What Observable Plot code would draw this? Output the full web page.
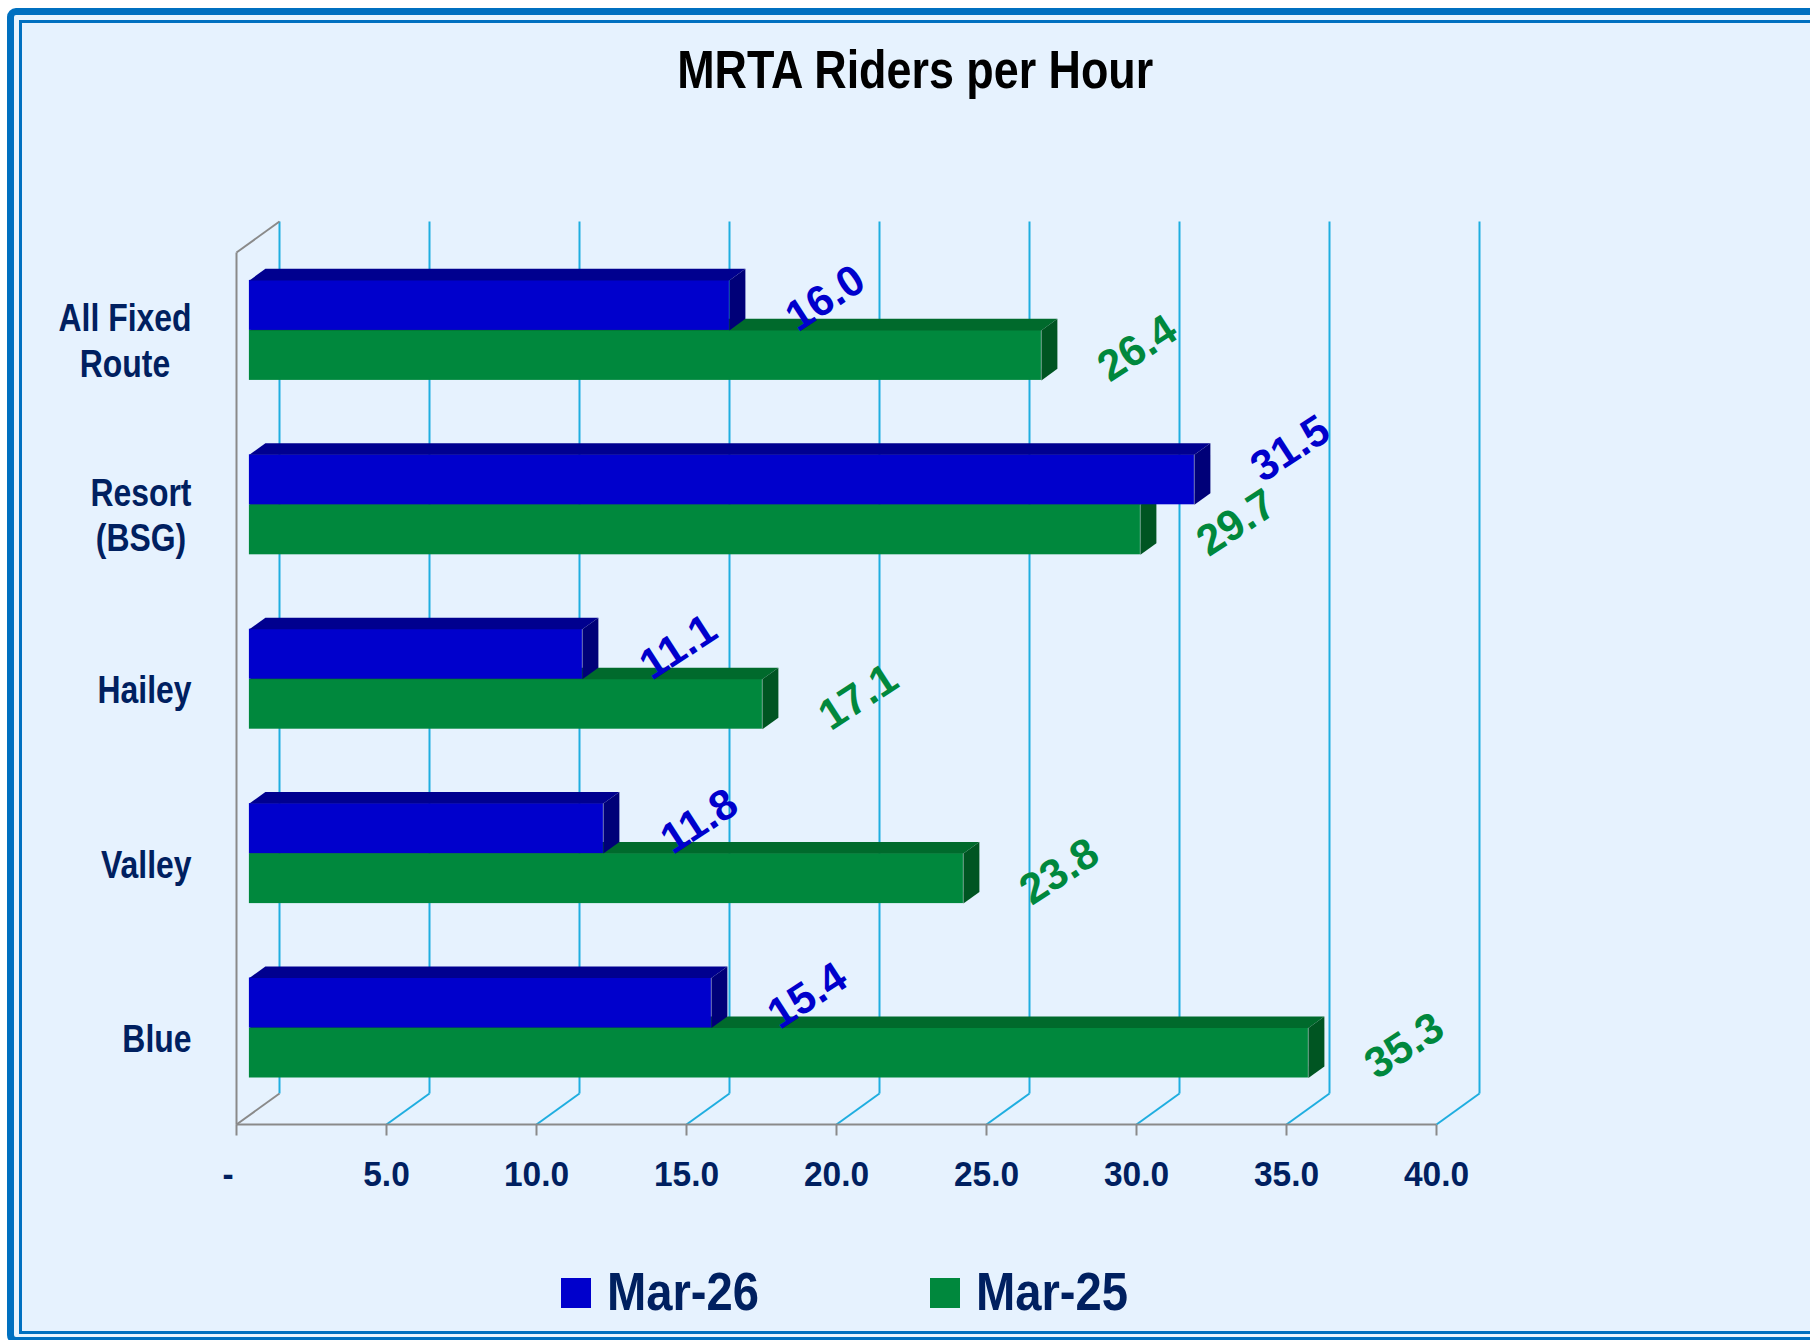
<!DOCTYPE html>
<html>
<head>
<meta charset="utf-8">
<script src="https://cdn.jsdelivr.net/npm/d3@7"></script>
<script src="https://cdn.jsdelivr.net/npm/@observablehq/plot@0.6"></script>
<style>
  html, body { margin: 0; padding: 0; background: #ffffff; }
  body { width: 1810px; height: 1340px; overflow: hidden; position: relative;
         font-family: "Liberation Sans", Arial, sans-serif; }
  #outer { position: absolute; left: 7px; top: 8px; width: 1900px; height: 1336px; box-sizing: border-box;
           border: 7px solid #0070C0; border-radius: 9px; background: #E9F4FE; }
  #inner { position: absolute; left: 19px; top: 20px; width: 1900px; height: 1314px; box-sizing: border-box;
           border: 3px solid #0070C0; background: #E6F2FE; }
  #title { position: absolute; left: 0; top: 43px; width: 1830px; text-align: center;
           font-weight: bold; font-size: 53px; line-height: 53px; color: #000; white-space: nowrap; }
  #title span { display: inline-block; transform-origin: 50% 50%; }
  #chart { position: absolute; left: 0; top: 130px; }
  .sw { position: absolute; width: 30px; height: 30px; }
  .lt { position: absolute; font-weight: bold; font-size: 53px; line-height: 53px; color: #002060;
        white-space: nowrap; transform-origin: 0 50%; }
</style>
</head>
<body>
<div id="outer"></div>
<div id="inner"></div>
<div id="title"><span>MRTA Riders per Hour</span></div>
<div id="chart"></div>
<div id="legend"></div>
<script>
// ---------------- data ----------------
const titleText = "MRTA Riders per Hour";
const categories = ["All Fixed\nRoute", "Resort\n(BSG)", "Hailey", "Valley", "Blue"];
const seriesNames = ["Mar-26", "Mar-25"];
const mar26 = [16.0, 31.5, 11.1, 11.8, 15.4];
const mar25 = [26.4, 29.7, 17.1, 23.8, 35.3];
const xTicks = [0, 5, 10, 15, 20, 25, 30, 35, 40];
const xTickLabels = ["-\u2002", "5.0", "10.0", "15.0", "20.0", "25.0", "30.0", "35.0", "40.0"];

// ---------------- layout / style ----------------
const W = 1810, H = 1080, ML = 236, MR = 374, MT = 122, MB = 86;
const X_DOMAIN = [0, 40];
const N = categories.length;
const kx = (W - ML - MR) / (X_DOMAIN[1] - X_DOMAIN[0]);   // px per x unit
const ky = (H - MT - MB) / N;                             // px per category band
const WALL_DX = 43, WALL_DY = -31;                        // 3D depth vector (px)
const du = {x: WALL_DX / kx, y: WALL_DY / ky};            // depth vector in data units
const D0 = 0.30, D1 = 0.672;                              // bar depth (fraction of wall depth)
const BAR_PX = 50;
const bt = BAR_PX / ky;
const TICK_PX = 11;
const GRID = "#1FAEE0", AXIS = "#8A8A8A", NAVY = "#002060";
const FONT = "'Liberation Sans', Arial, sans-serif";
const LABEL_CLASH = 4;      // if the two values of a category are this close, lift the upper label
const LABEL_LIFT = -24;

const seriesStyle = [
  {front: "#0000CC", top: "#00008F", side: "#000078", label: "#0000CC", b0: 0.5 - bt, b1: 0.5},
  {front: "#00883D", top: "#006A2C", side: "#005522", label: "#00883D", b0: 0.5, b1: 0.5 + bt}
];
const seriesValues = [mar26, mar25];

// ---------------- geometry from data ----------------
function barFaces(values, st, s) {
  const front = values.map((v, i) => ({
    x1: D0 * du.x, x2: v + D0 * du.x,
    y1: i + st.b0 + D0 * du.y, y2: i + st.b1 + D0 * du.y
  }));
  const top = values.flatMap((v, i) =>
    [[0, D0], [v, D0], [v, D1], [0, D1]].map(([xv, d]) => ({id: i, x: xv + d * du.x, y: i + st.b0 + d * du.y})));
  const side = values.flatMap((v, i) =>
    [[st.b0, D0], [st.b0, D1], [st.b1, D1], [st.b1, D0]].map(([b, d]) => ({id: i, x: v + d * du.x, y: i + b + d * du.y})));
  const labels = values.map((v, i) => {
    const other = seriesValues[1 - s][i];
    const lift = (s === 0 && Math.abs(v - other) < LABEL_CLASH) ? LABEL_LIFT / ky : 0;
    return {x: v + D0 * du.x, y: i + (st.b0 + st.b1) / 2 + D0 * du.y + lift, text: v.toFixed(1)};
  });
  return {front, top, side, labels};
}

const gridRows = xTicks.map(v => ({v, xb: v + du.x, yt: du.y, yb: N + du.y, yf: N}));
const wallEdges = [
  {x1: X_DOMAIN[0], y1: 0, x2: X_DOMAIN[0], y2: N},
  {x1: X_DOMAIN[0], y1: 0, x2: X_DOMAIN[0] + du.x, y2: du.y},
  {x1: X_DOMAIN[0], y1: N, x2: X_DOMAIN[0] + du.x, y2: N + du.y},
  {x1: X_DOMAIN[0], y1: N, x2: X_DOMAIN[1], y2: N}
];

const marks = [
  Plot.link(gridRows, {x1: "xb", x2: "xb", y1: "yt", y2: "yb", stroke: GRID, strokeWidth: 2}),
  Plot.link(gridRows.filter(d => d.v !== X_DOMAIN[0]), {x1: "xb", y1: "yb", x2: "v", y2: "yf", stroke: GRID, strokeWidth: 2}),
  Plot.link(wallEdges, {x1: "x1", y1: "y1", x2: "x2", y2: "y2", stroke: AXIS, strokeWidth: 2}),
  Plot.link(xTicks, {x1: d => d, x2: d => d, y1: () => N, y2: () => N + TICK_PX / ky, stroke: AXIS, strokeWidth: 2}),
  Plot.text(xTicks, {x: d => d, y: () => N, text: (d, i) => xTickLabels[i], dy: 50, lineAnchor: "middle",
    textAnchor: "middle", fontSize: 36, fontWeight: "bold", fill: NAVY, ariaDescription: "xticklabels"}),
  Plot.text(categories, {x: () => X_DOMAIN[0], y: (d, i) => i + 0.5, text: d => d, dx: -45, textAnchor: "end",
    lineAnchor: "middle", lineHeight: 1.2, fontSize: 38, fontWeight: "bold", fill: NAVY, ariaDescription: "catlabels"})
];

// draw Mar-25 (lower bar) first, then Mar-26 on top
[1, 0].forEach(s => {
  const st = seriesStyle[s];
  const f = barFaces(seriesValues[s], st, s);
  marks.push(
    Plot.rect(f.front, {x1: "x1", x2: "x2", y1: "y1", y2: "y2", fill: st.front}),
    Plot.line(f.top, {x: "x", y: "y", z: "id", fill: st.top, stroke: "none", curve: "linear-closed"}),
    Plot.line(f.side, {x: "x", y: "y", z: "id", fill: st.side, stroke: "none", curve: "linear-closed"})
  );
});
[1, 0].forEach(s => {
  const st = seriesStyle[s];
  const f = barFaces(seriesValues[s], st, s);
  marks.push(Plot.text(f.labels, {x: "x", y: "y", text: "text", rotate: -33, dx: 96, dy: -7,
    textAnchor: "middle", lineAnchor: "middle", fontSize: 43, fontWeight: "bold", fill: st.label}));
});

const svg = Plot.plot({
  width: W, height: H,
  marginLeft: ML, marginRight: MR, marginTop: MT, marginBottom: MB,
  x: {domain: X_DOMAIN, axis: null},
  y: {domain: [0, N], reverse: true, axis: null},
  style: {background: "transparent", fontFamily: FONT, overflow: "visible"},
  marks
});
document.getElementById("chart").appendChild(svg);

// center the lines of multi-line category labels within their block
svg.querySelectorAll('g[aria-description="catlabels"] text').forEach(t => {
  const spans = [...t.querySelectorAll("tspan")];
  if (spans.length > 1) {
    const ws = spans.map(sp => sp.getComputedTextLength());
    const wmax = Math.max(...ws);
    spans.forEach((sp, k) => sp.setAttribute("x", -(wmax - ws[k]) / 2));
  }
});

function condense(desc, s) {
  svg.querySelectorAll(`g[aria-description="${desc}"] text`).forEach(t => {
    const tr = t.getAttribute("transform") || "";
    t.setAttribute("transform", `${tr} scale(${s},1)`);
  });
}
condense("xticklabels", 0.93);
condense("catlabels", 0.84);

// title fit (condensed bold)
const tspan = document.querySelector("#title span");
tspan.textContent = titleText;
const tw = tspan.getBoundingClientRect().width;
tspan.style.transform = `scaleX(${476 / tw})`;

// legend
const legendX = [561, 930];
const legend = document.getElementById("legend");
seriesNames.forEach((name, i) => {
  const sw = document.createElement("div");
  sw.className = "sw";
  sw.style.left = legendX[i] + "px";
  sw.style.top = "1278px";
  sw.style.background = seriesStyle[i].front;
  legend.appendChild(sw);
  const t = document.createElement("div");
  t.className = "lt";
  t.textContent = name;
  t.style.left = (legendX[i] + 46) + "px";
  t.style.top = "1265px";
  legend.appendChild(t);
  const w = t.getBoundingClientRect().width;
  t.style.transform = `scaleX(${152 / w})`;
});
</script>
</body>
</html>
